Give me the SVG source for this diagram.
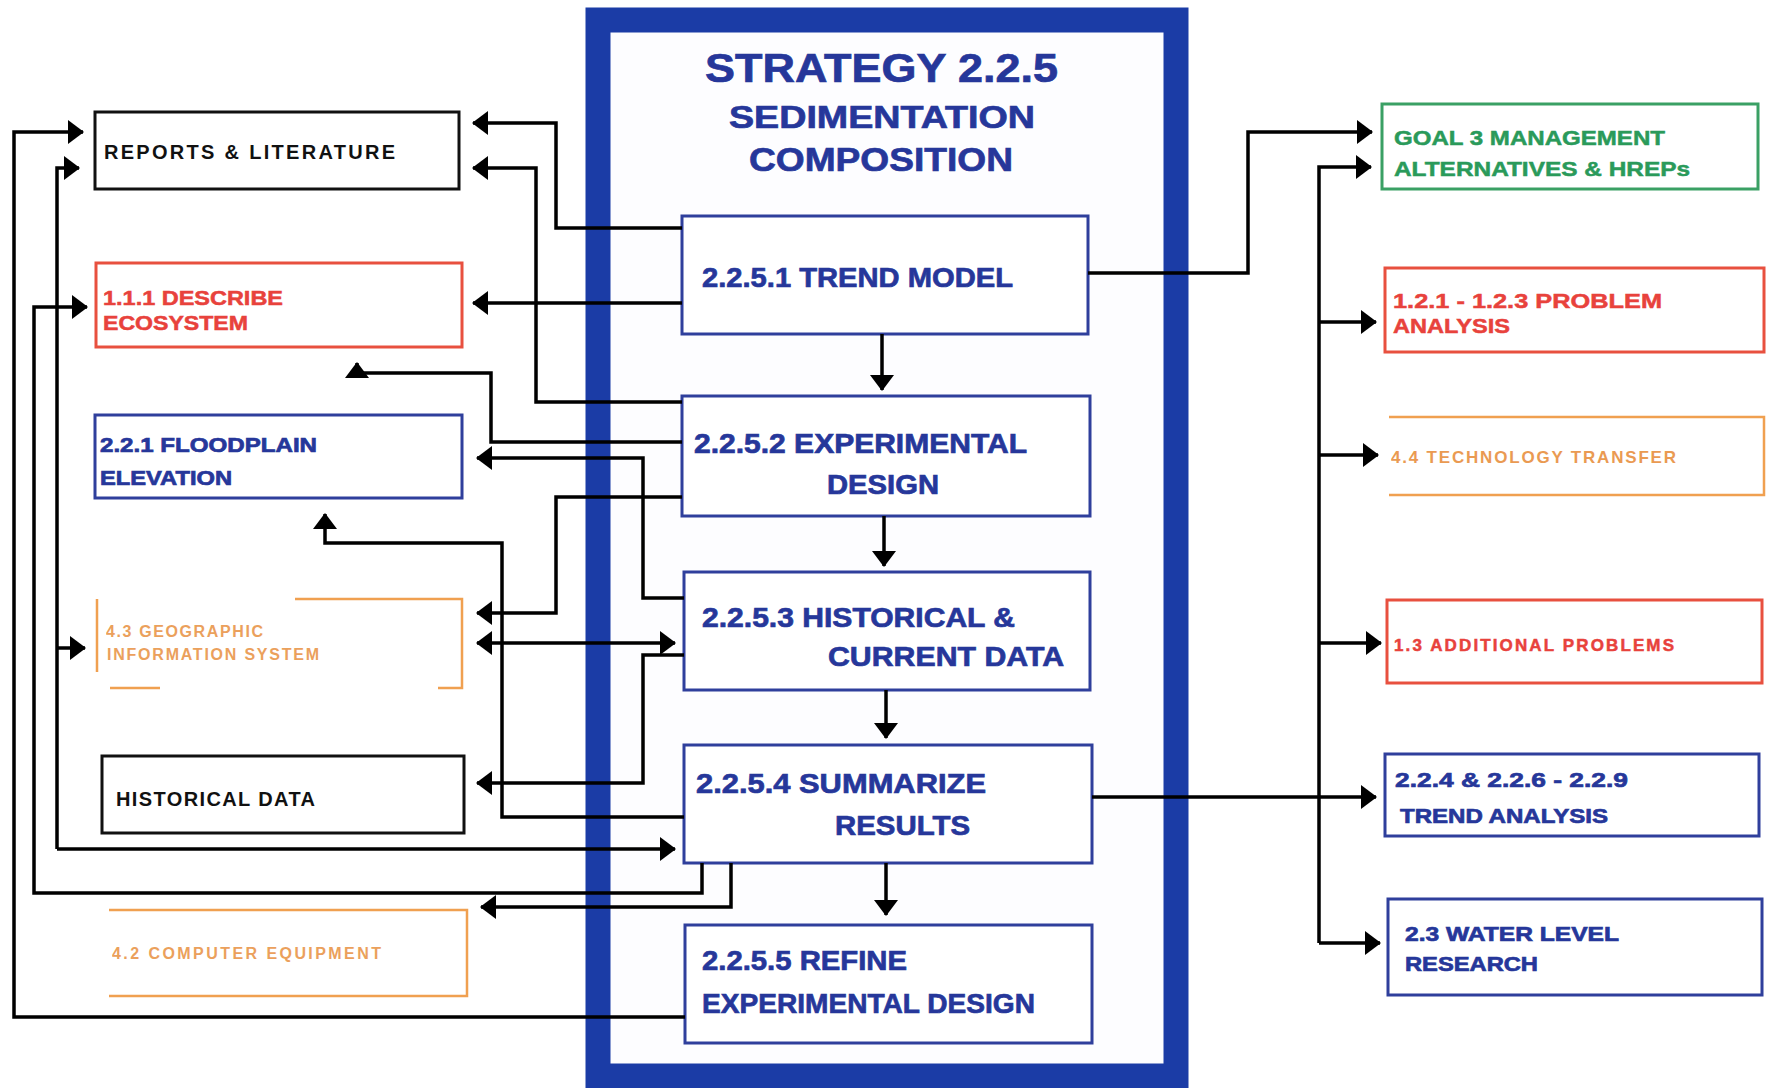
<svg xmlns="http://www.w3.org/2000/svg" width="1775" height="1088" viewBox="0 0 1775 1088">
<defs>
<marker id="arr" markerUnits="userSpaceOnUse" markerWidth="16" markerHeight="24" viewBox="0 0 16 24" refX="15" refY="12" orient="auto-start-reverse">
<path d="M0,0 L16,12 L0,24 Z" fill="#000"/>
</marker>
<style>
text{font-family:"Liberation Sans",Arial,sans-serif;font-weight:bold}
.box{fill:#fff;stroke-width:3}
.cb{fill:#fff;stroke:#2f3f9c;stroke-width:3}
.blk{stroke:#111}
.red{stroke:#e8503f}
.org{stroke:#f0a050;fill:none}
.grn{stroke:#3aa064}
.blu{stroke:#2f3f9c}
.tb{fill:#26379a;stroke:#26379a;stroke-width:0.7}
.tr{fill:#e8423c;stroke:#e8423c;stroke-width:0.5}
.to{fill:#e89040}
.tg{fill:#2a9a5a;stroke:#2a9a5a;stroke-width:0.5}
.tk{fill:#111}
.c{fill:none;stroke:#000;stroke-width:3.5;stroke-linejoin:miter}
.a{marker-end:url(#arr)}
</style>
</defs>
<rect width="1775" height="1088" fill="#fff"/>
<g id="frame">
<rect x="598" y="20" width="578" height="1056" fill="#fdfdff" stroke="#1b3ca6" stroke-width="25"/>
</g>
<g id="title">
<text x="705" y="82" font-size="40" textLength="353" lengthAdjust="spacingAndGlyphs" class="tb">STRATEGY 2.2.5</text>
<text x="729" y="128" font-size="32" textLength="306" lengthAdjust="spacingAndGlyphs" class="tb">SEDIMENTATION</text>
<text x="749" y="171" font-size="34" textLength="264" lengthAdjust="spacingAndGlyphs" class="tb">COMPOSITION</text>
</g>
<g id="n2251"><rect class="cb" x="682" y="216" width="406" height="118"/>
<text x="702" y="287" font-size="28" textLength="311" lengthAdjust="spacingAndGlyphs" class="tb">2.2.5.1 TREND MODEL</text></g>
<g id="n2252"><rect class="cb" x="682" y="396" width="408" height="120"/>
<text x="694" y="453" font-size="28" textLength="333" lengthAdjust="spacingAndGlyphs" class="tb">2.2.5.2 EXPERIMENTAL</text>
<text x="827" y="494" font-size="28" textLength="112" lengthAdjust="spacingAndGlyphs" class="tb">DESIGN</text></g>
<g id="n2253"><rect class="cb" x="684" y="572" width="406" height="118"/>
<text x="702" y="627" font-size="28" textLength="313" lengthAdjust="spacingAndGlyphs" class="tb">2.2.5.3 HISTORICAL &amp;</text>
<text x="828" y="666" font-size="28" textLength="236" lengthAdjust="spacingAndGlyphs" class="tb">CURRENT DATA</text></g>
<g id="n2254"><rect class="cb" x="684" y="745" width="408" height="118"/>
<text x="696" y="793" font-size="28" textLength="290" lengthAdjust="spacingAndGlyphs" class="tb">2.2.5.4  SUMMARIZE</text>
<text x="835" y="835" font-size="28" textLength="135" lengthAdjust="spacingAndGlyphs" class="tb">RESULTS</text></g>
<g id="n2255"><rect class="cb" x="685" y="925" width="407" height="118"/>
<text x="702" y="970" font-size="28" textLength="205" lengthAdjust="spacingAndGlyphs" class="tb">2.2.5.5 REFINE</text>
<text x="702" y="1013" font-size="28" textLength="333" lengthAdjust="spacingAndGlyphs" class="tb">EXPERIMENTAL DESIGN</text></g>

<g id="reports"><rect class="box blk" x="95" y="112" width="364" height="77"/>
<text x="104" y="159" font-size="20" textLength="291" class="tk">REPORTS &amp; LITERATURE</text></g>
<g id="describe"><rect class="box red" x="96" y="263" width="366" height="84"/>
<text x="103" y="305" font-size="20" textLength="180" lengthAdjust="spacingAndGlyphs" class="tr">1.1.1 DESCRIBE</text>
<text x="103" y="330" font-size="20" textLength="145" lengthAdjust="spacingAndGlyphs" class="tr">ECOSYSTEM</text></g>
<g id="floodplain"><rect class="box blu" x="95" y="415" width="367" height="83"/>
<text x="100" y="452" font-size="20" textLength="217" lengthAdjust="spacingAndGlyphs" class="tb">2.2.1 FLOODPLAIN</text>
<text x="100" y="485" font-size="20" textLength="132" lengthAdjust="spacingAndGlyphs" class="tb">ELEVATION</text></g>
<g id="gis"><path class="org" stroke-width="2.5" d="M97,672 V599 M295,599 H462 V688 H438 M110,688 H160"/>
<text x="106" y="637" font-size="16" textLength="157" class="to" opacity="0.85">4.3 GEOGRAPHIC</text>
<text x="107" y="660" font-size="16" textLength="212" class="to" opacity="0.85">INFORMATION SYSTEM</text></g>
<g id="histdata"><rect class="box blk" x="102" y="756" width="362" height="77"/>
<text x="116" y="806" font-size="20" textLength="199" class="tk">HISTORICAL DATA</text></g>
<g id="computer"><path class="org" stroke-width="2.5" d="M109,910 H467 V996 H109"/>
<text x="112" y="959" font-size="16" textLength="269" class="to" opacity="0.85">4.2 COMPUTER EQUIPMENT</text></g>

<g id="goal3"><rect class="box grn" x="1382" y="104" width="376" height="85"/>
<text x="1394" y="145" font-size="21" textLength="271" lengthAdjust="spacingAndGlyphs" class="tg">GOAL 3 MANAGEMENT</text>
<text x="1394" y="176" font-size="21" textLength="296" lengthAdjust="spacingAndGlyphs" class="tg">ALTERNATIVES &amp; HREPs</text></g>
<g id="problem"><rect class="box red" x="1385" y="268" width="379" height="84"/>
<text x="1393" y="308" font-size="21" textLength="269" lengthAdjust="spacingAndGlyphs" class="tr">1.2.1 - 1.2.3 PROBLEM</text>
<text x="1393" y="333" font-size="21" textLength="117" lengthAdjust="spacingAndGlyphs" class="tr">ANALYSIS</text></g>
<g id="techtransfer"><path class="org" stroke-width="2.5" d="M1389,417 H1764 V495 H1389"/>
<text x="1391" y="463" font-size="17" textLength="285" class="to" opacity="0.9">4.4 TECHNOLOGY TRANSFER</text></g>
<g id="additional"><rect class="box red" x="1387" y="600" width="375" height="83"/>
<text x="1394" y="651" font-size="17" textLength="280" class="tr">1.3 ADDITIONAL PROBLEMS</text></g>
<g id="trendanalysis"><rect class="box blu" x="1385" y="754" width="374" height="82"/>
<text x="1395" y="787" font-size="21" textLength="233" lengthAdjust="spacingAndGlyphs" class="tb">2.2.4 &amp; 2.2.6 - 2.2.9</text>
<text x="1400" y="823" font-size="21" textLength="208" lengthAdjust="spacingAndGlyphs" class="tb">TREND ANALYSIS</text></g>
<g id="waterlevel"><rect class="box blu" x="1388" y="899" width="374" height="96"/>
<text x="1405" y="941" font-size="21" textLength="214" lengthAdjust="spacingAndGlyphs" class="tb">2.3 WATER LEVEL</text>
<text x="1405" y="971" font-size="21" textLength="133" lengthAdjust="spacingAndGlyphs" class="tb">RESEARCH</text></g>

<g id="connectors">
<path class="c a" d="M682,228 H556 V123 H473"/>
<path class="c a" d="M682,402 H536 V168 H473"/>
<path class="c a" d="M682,303 H473"/>
<path class="c a" d="M682,442 H491 V373 H357 V363"/>
<path class="c a" d="M682,497 H556 V613 H477"/>
<path class="c a" d="M684,598 H643 V458 H477"/>
<path class="c a" d="M477,643 H675" style="marker-start:url(#arr)"/>
<path class="c a" d="M684,655 H643 V783 H477"/>
<path class="c a" d="M684,817 H502 V543 H325 V514"/>
<path class="c a" d="M57,849 V168 H79"/>
<path class="c a" d="M57,648 H85"/>
<path class="c a" d="M57,849 H675"/>
<path class="c a" d="M702,863 V893 H34 V307 H87"/>
<path class="c a" d="M731,863 V907 H481"/>
<path class="c a" d="M685,1017 H14 V132 H83"/>
<path class="c a" d="M1088,273 H1248 V132 H1372"/>
<path class="c a" d="M1092,797 H1376"/>
<path class="c a" d="M1319,943 V167 H1371"/>
<path class="c a" d="M1319,322 H1376"/>
<path class="c a" d="M1319,455 H1378"/>
<path class="c a" d="M1319,643 H1381"/>
<path class="c a" d="M1319,943 H1380"/>
<path class="c a" d="M882,334 V390"/>
<path class="c a" d="M884,516 V566"/>
<path class="c a" d="M886,690 V738"/>
<path class="c a" d="M886,863 V915"/>
</g>
</svg>
